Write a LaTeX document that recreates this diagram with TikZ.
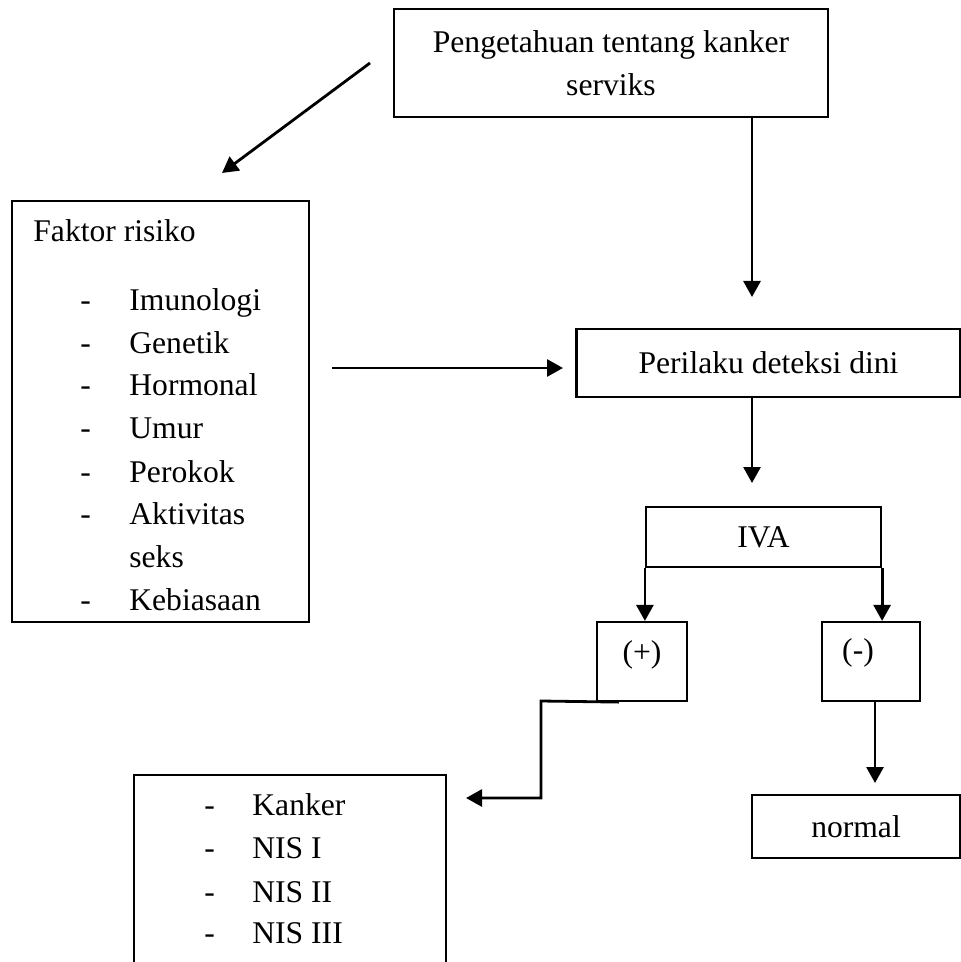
\documentclass[tikz,border=0pt]{standalone}
\usepackage{fontspec}
\setmainfont{Liberation Serif}
\usetikzlibrary{arrows.meta}
\tikzset{
  box/.style={draw, line width=1.1pt, inner sep=0pt},
  arr/.style={-{Triangle[length=8pt,width=8.5pt]}, line width=1.4pt},
  txt/.style={anchor=base west, inner sep=0pt},
}
\begin{document}
\begin{tikzpicture}[x=0.5pt,y=-0.5pt,font=\fontsize{15.8}{21.5}\selectfont]
  \useasboundingbox (0,0) rectangle (961,962);
  % boxes
  \node[box, minimum width=217pt, minimum height=54pt, align=center] (know) at (611,63) {Pengetahuan tentang kanker\\serviks};
  \node[box, minimum width=148.5pt, minimum height=210.5pt] (risk) at (160.5,411.5) {};
  \node[box, minimum width=192pt, minimum height=34pt] (detect) at (768.5,363) {Perilaku deteksi dini};
  \node[box, minimum width=117.5pt, minimum height=30pt] (iva) at (763.5,537) {IVA};
  \node[box, minimum width=45pt, minimum height=39.5pt] (pos) at (642,661.5) {};
  \node[box, minimum width=49pt, minimum height=39.5pt] (neg) at (871,661.5) {};
  \node[box, minimum width=104pt, minimum height=31.5pt] (norm) at (856,826.5) {normal};
  \node[box, minimum width=156pt, minimum height=100pt] (stage) at (290,875) {};
  \node (postext) at (642,655) {(+)};
  \node (negtext) at (858,653) {(-)};
  % risk factors
  \node[txt] (risktitle) at (33,242) {Faktor risiko};
  \foreach \y/\d/\t [count=\i] in {310/-/Imunologi, 353/-/Genetik, 395/-/Hormonal, 438/-/Umur,
      482/-/Perokok, 524/-/Aktivitas, 567//seks, 610/-/Kebiasaan} {
    \node[txt] (rd\i) at (80,\y) {\d};
    \node[txt] (r\i) at (129,\y) {\t};
  }
  % results
  \foreach \y/\t [count=\i] in {815/Kanker, 858/NIS I, 902/NIS II, 943/NIS III} {
    \node[txt] (sd\i) at (204,\y) {-};
    \node[txt] (s\i) at (252,\y) {\t};
  }
  % connectors
  \coordinate (d1) at (370,63);
  \coordinate (d2) at (222,173);
  \coordinate (k) at (752,297);
  \coordinate (h1) at (332,368);
  \coordinate (h2) at (563,368);
  \coordinate (v) at (752,483);
  \coordinate (c1) at (541,701);
  \coordinate (c2) at (541,798);
  \coordinate (b) at (466,798);
  \coordinate (n) at (875,783);
  \draw[arr] (d1) -- (d2);
  \draw[arr] (know.south -| k) -- (k);
  \draw[arr] (h1) -- (h2);
  \draw[arr] (detect.south -| v) -- (v);
  \draw[arr] (iva.south west) -- (iva.south west |- pos.north);
  \draw[arr] (iva.south east) -- (iva.south east |- neg.north);
  \draw[arr] ([xshift=11.5pt]pos.south west) -- (c1) -- (c2) -- (b);
  \draw[arr] (neg.south -| n) -- (n);
\end{tikzpicture}
\end{document}
